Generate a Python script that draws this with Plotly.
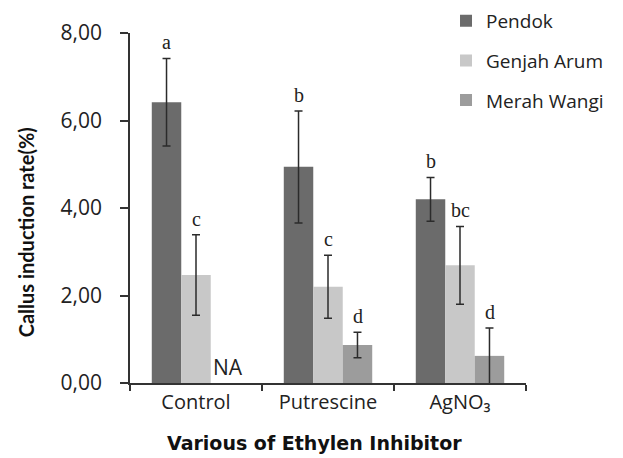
import plotly.graph_objects as go

categories = ["Control", "Putrescine", "AgNO₃"]
series_names = ["Pendok", "Genjah Arum", "Merah Wangi"]
pendok = [6.42, 4.94, 4.20]
pendok_err = [1.00, 1.28, 0.50]
genjah = [2.47, 2.20, 2.69]
genjah_err = [0.92, 0.72, 0.89]
merah = [None, 0.87, 0.62]
merah_err = [0, 0.29, 0.64]
letters_pendok = ["a", "b", "b"]
letters_genjah = ["c", "c", "bc"]
letters_merah = [None, "d", "d"]

colors = ["#6b6b6b", "#c8c8c8", "#9c9c9c"]
sans = "Open Sans, sans-serif"

fig = go.Figure()
data = [(pendok, pendok_err), (genjah, genjah_err), (merah, merah_err)]
for i, (vals, errs) in enumerate(data):
    fig.add_trace(go.Bar(
        x=categories, y=vals, name=series_names[i],
        marker=dict(color=colors[i], line=dict(width=0)),
        error_y=dict(type="data", array=errs, visible=True,
                     color="#2b2b2b", thickness=1.5, width=4),
        legendgroup=f"g{i}",
    ))

bar_px = 29.5
letter_sets = [letters_pendok, letters_genjah, letters_merah]
for i, (vals, errs) in enumerate(data):
    for j, cat in enumerate(categories):
        lab = letter_sets[i][j]
        if lab is None or vals[j] is None:
            continue
        xs = (i - 1) * bar_px
        fig.add_annotation(
            x=cat, y=vals[j] + errs[j], text=lab, showarrow=False,
            xshift=xs, yshift=3, yanchor="bottom",
            font=dict(family="Liberation Serif, Times New Roman, serif", size=20, color="#222"),
        )

fig.add_annotation(
    x=categories[0], y=0, text="NA", showarrow=False, xshift=bar_px + 2,
    yanchor="bottom", yshift=0,
    font=dict(family=sans, size=21, color="#222"),
)

# axis titles placed as annotations
fig.add_annotation(
    xref="paper", yref="paper", x=-0.263, y=0.43, text="<b>Callus induction rate(%)</b>",
    textangle=-90, showarrow=False, xanchor="center", yanchor="middle",
    font=dict(family="Lato, sans-serif", size=20, color="#111"),
)
fig.add_annotation(
    xref="paper", yref="paper", x=0.465, y=-0.171, text="<b>Various of Ethylen Inhibitor</b>",
    showarrow=False, xanchor="center", yanchor="middle",
    font=dict(family="DejaVu Sans, sans-serif", size=19, color="#111"),
)

fig.update_layout(
    width=623, height=458,
    margin=dict(l=122, r=105, t=25, b=83, autoexpand=False),
    plot_bgcolor="white", paper_bgcolor="white",
    barmode="group", bargap=0.33, bargroupgap=0,
    font=dict(family=sans, color="#222"),
    legend=dict(
        x=0.798, xanchor="left", y=1.089, yanchor="top",
        font=dict(family=sans, size=19, color="#222"),
        tracegroupgap=12, bgcolor="rgba(0,0,0,0)",
        itemwidth=30,
    ),
    xaxis=dict(
        type="category", tickson="boundaries", ticks="outside", ticklen=6,
        tickwidth=1.5, tickcolor="#333", showline=True, linecolor="#333",
        linewidth=1.5, showgrid=False, range=[-0.5, 2.5],
        tickfont=dict(family=sans, size=20, color="#222"),
    ),
    yaxis=dict(
        range=[0, 8], tickvals=[0, 2, 4, 6, 8],
        ticktext=["0,00", "2,00", "4,00", "6,00", "8,00"],
        ticks="outside", ticklen=8, tickwidth=1.5, tickcolor="#333",
        showline=True, linecolor="#333", linewidth=1.5, showgrid=False,
        zeroline=False, ticklabelstandoff=14,
        tickfont=dict(family=sans, size=21, color="#222"),
    ),
)

fig.write_html("out.html")
